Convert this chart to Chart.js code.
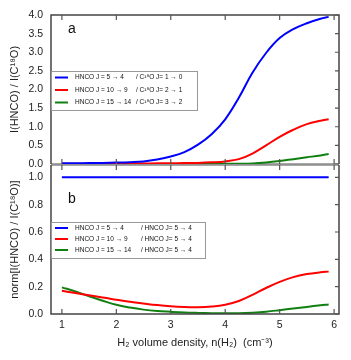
<!DOCTYPE html>
<html>
<head>
<meta charset="utf-8">
<script src="https://cdn.jsdelivr.net/npm/chart.js@4"></script>
<style>
  html, body { margin: 0; padding: 0; background: #fff; }
  #wrap { position: relative; width: 351px; height: 360px; }
  #wrap canvas { position: absolute; left: 0; top: 0; }
</style>
</head>
<body>
<div id="wrap">
  <canvas id="topChart" width="351" height="360"></canvas>
  <canvas id="bottomChart" width="351" height="360"></canvas>
</div>
<script>
// H2 volume density, log n(H2)
const density = [1, 1.25, 1.5, 1.75, 2, 2.25, 2.5, 2.75, 3, 3.25, 3.5, 3.75, 4, 4.25, 4.5, 4.75, 5, 5.25, 5.5, 5.75, 5.9];

// panel a: I(HNCO) / I(C18O)
const ratio54 = [0.02, 0.022, 0.025, 0.03, 0.038, 0.05, 0.07, 0.12, 0.2, 0.32, 0.52, 0.8, 1.2, 1.78, 2.45, 2.98, 3.38, 3.62, 3.78, 3.9, 3.95];
const ratio109 = [0.01, 0.01, 0.01, 0.01, 0.01, 0.012, 0.014, 0.017, 0.02, 0.025, 0.03, 0.045, 0.07, 0.13, 0.28, 0.5, 0.73, 0.92, 1.07, 1.16, 1.2];
const ratio1514 = [0, 0, 0, 0, 0, 0, 0, 0, 0.001, 0.002, 0.003, 0.004, 0.006, 0.008, 0.015, 0.04, 0.08, 0.13, 0.18, 0.23, 0.27];

// panel b: normalised to HNCO 5-4
const norm54 = [1, 1, 1, 1, 1, 1, 1, 1, 1, 1, 1, 1, 1, 1, 1, 1, 1, 1, 1, 1, 1];
const norm109 = [0.17, 0.153, 0.137, 0.12, 0.105, 0.09, 0.077, 0.065, 0.056, 0.051, 0.05, 0.055, 0.068, 0.095, 0.14, 0.19, 0.235, 0.27, 0.292, 0.305, 0.31];
const norm1514 = [0.195, 0.165, 0.13, 0.097, 0.067, 0.047, 0.032, 0.022, 0.016, 0.011, 0.008, 0.006, 0.005, 0.006, 0.01, 0.017, 0.028, 0.04, 0.052, 0.064, 0.07];

const xTicks = [1, 2, 3, 4, 5, 6];
const topYTicks = [0, 0.5, 1, 1.5, 2, 2.5, 3, 3.5, 4];
const bottomYTicks = [0, 0.2, 0.4, 0.6, 0.8, 1.0];

const topLabelsA = ['HNCO J = 5 \u2192 4', 'HNCO J = 10 \u2192 9', 'HNCO J = 15 \u2192 14'];
const topLabelsB = ['/ C\u00b9\u2078O J= 1 \u2192 0', '/ C\u00b9\u2078O J= 2 \u2192 1', '/ C\u00b9\u2078O J= 3 \u2192 2'];
const bottomLabelsA = ['HNCO J = 5 \u2192 4', 'HNCO J = 10 \u2192 9', 'HNCO J = 15 \u2192 14'];
const bottomLabelsB = ['/ HNCO J= 5 \u2192 4', '/ HNCO J= 5 \u2192 4', '/ HNCO J= 5 \u2192 4'];

const colors = ['#0000ff', '#ff0000', '#108010'];
const FONT = "'Liberation Sans', Arial, sans-serif";
Chart.defaults.font.family = FONT;

const pts = ys => density.map((x, i) => ({ x, y: ys[i] }));
const line = (label, ys, color) => ({
  label, data: pts(ys), borderColor: color, borderWidth: 2,
  pointRadius: 0, fill: false, tension: 0.4
});

const keepTicks = list => scale => {
  scale.ticks = list.map(v => ({ value: v }));
};

// separator line between panels, drawn under the curves
const separator = {
  id: 'separator',
  beforeDatasetsDraw(chart, args, o) {
    const { ctx, chartArea: a } = chart;
    const y = o.side === 'bottom' ? a.bottom : a.top;
    ctx.save();
    ctx.strokeStyle = '#8a8a8a';
    ctx.lineWidth = 1.6;
    ctx.beginPath();
    ctx.moveTo(a.left, y); ctx.lineTo(a.right, y);
    ctx.stroke();
    ctx.restore();
  }
};

// frame, inward ticks, legend box and panel letter
const decor = {
  id: 'decor',
  afterDraw(chart, args, o) {
    const { ctx, chartArea: a, scales } = chart;
    ctx.save();
    ctx.strokeStyle = '#444';
    ctx.lineWidth = 1.5;
    ctx.beginPath();
    if (o.open === 'bottom') {
      ctx.moveTo(a.left, a.bottom); ctx.lineTo(a.left, a.top);
      ctx.lineTo(a.right, a.top); ctx.lineTo(a.right, a.bottom);
    } else {
      ctx.moveTo(a.left, a.top); ctx.lineTo(a.left, a.bottom);
      ctx.lineTo(a.right, a.bottom); ctx.lineTo(a.right, a.top);
    }
    ctx.stroke();

    ctx.strokeStyle = '#555';
    ctx.lineWidth = 1.2;
    ctx.beginPath();
    xTicks.forEach(v => {
      const px = scales.x.getPixelForValue(v);
      ctx.moveTo(px, a.top); ctx.lineTo(px, a.top + 5);
      ctx.moveTo(px, a.bottom); ctx.lineTo(px, a.bottom - 5);
    });
    o.yTicks.forEach(v => {
      const py = scales.y.getPixelForValue(v);
      ctx.moveTo(a.right, py); ctx.lineTo(a.right - 4, py);
    });
    ctx.stroke();

    // legend
    const b = o.box;
    ctx.fillStyle = '#fff';
    ctx.fillRect(b.x0, b.y0, b.x1 - b.x0, b.y1 - b.y0);
    ctx.strokeStyle = '#999';
    ctx.lineWidth = 1;
    ctx.strokeRect(b.x0 + 0.5, b.y0 + 0.5, b.x1 - b.x0, b.y1 - b.y0);
    ctx.font = '6.5px ' + FONT;
    ctx.textBaseline = 'middle';
    ctx.fillStyle = '#111';
    chart.data.datasets.forEach((ds, i) => {
      const y = o.rows[i];
      ctx.strokeStyle = ds.borderColor;
      ctx.lineWidth = 2;
      ctx.beginPath();
      ctx.moveTo(b.x0 + 4, y); ctx.lineTo(b.x0 + 17, y);
      ctx.stroke();
      ctx.fillText(o.labelsA[i], b.x0 + 24, y);
      ctx.fillText(o.labelsB[i], o.col2, y);
    });

    ctx.font = '14px ' + FONT;
    ctx.textBaseline = 'alphabetic';
    ctx.fillStyle = '#111';
    ctx.fillText(o.letter, a.left + 17, a.top + o.letterDy);
    ctx.restore();
  }
};

const yAxis = (max, ticks, title) => ({
  min: 0, max,
  afterBuildTicks: keepTicks(ticks),
  afterFit: s => { s.width = 51; },
  grid: { display: false, drawTicks: false },
  border: { display: false },
  ticks: {
    padding: 8, color: '#222', font: { size: 10.5 },
    callback: v => v.toFixed(1)
  },
  title: {
    display: true, text: title, color: '#222',
    font: { size: 11 }, padding: { top: 8, bottom: 0 }
  }
});

new Chart(document.getElementById('topChart'), {
  type: 'line',
  data: {
    datasets: [
      line(topLabelsA[0], ratio54, colors[0]),
      line(topLabelsA[1], ratio109, colors[1]),
      line(topLabelsA[2], ratio1514, colors[2])
    ]
  },
  options: {
    responsive: false, animation: false,
    layout: { padding: { left: 0, top: 15, right: 12, bottom: 196 } },
    plugins: {
      legend: { display: false }, tooltip: { enabled: false },
      separator: { side: 'bottom' },
      decor: {
        open: 'bottom', yTicks: topYTicks, letter: 'a', letterDy: 18,
        box: { x0: 51, y0: 71, x1: 197, y1: 110 },
        rows: [77.5, 90, 102.5], col2: 136,
        labelsA: topLabelsA, labelsB: topLabelsB
      }
    },
    scales: {
      x: { type: 'linear', min: 0.8, max: 6.09, display: false },
      y: yAxis(4, topYTicks, 'I(HNCO) / I(C\u00b9\u2078O)')
    }
  },
  plugins: [separator, decor]
});

new Chart(document.getElementById('bottomChart'), {
  type: 'line',
  data: {
    datasets: [
      line(bottomLabelsA[0], norm54, colors[0]),
      line(bottomLabelsA[1], norm109, colors[1]),
      line(bottomLabelsA[2], norm1514, colors[2])
    ]
  },
  options: {
    responsive: false, animation: false,
    layout: { padding: { left: 0, top: 165, right: 12, bottom: 0 } },
    plugins: {
      legend: { display: false }, tooltip: { enabled: false },
      separator: { side: 'top' },
      decor: {
        open: 'top', yTicks: bottomYTicks, letter: 'b', letterDy: 38,
        box: { x0: 51, y0: 222, x1: 205, y1: 258 },
        rows: [228, 239, 250], col2: 141,
        labelsA: bottomLabelsA, labelsB: bottomLabelsB
      }
    },
    scales: {
      x: {
        type: 'linear', min: 0.8, max: 6.09,
        afterBuildTicks: keepTicks(xTicks),
        afterFit: s => { s.height = 46; },
        grid: { display: false, drawTicks: false },
        border: { display: false },
        ticks: { padding: 5, color: '#222', font: { size: 10.5 }, autoSkip: false, maxRotation: 0 },
        title: {
          display: true, text: 'H\u2082 volume density, n(H\u2082)  (cm\u207b\u00b3)', color: '#222',
          font: { size: 11 }, padding: { top: 0, bottom: 10 }
        }
      },
      y: yAxis(1.09, bottomYTicks, 'norm[I(HNCO) / I(C\u00b9\u2078O)]')
    }
  },
  plugins: [separator, decor]
});
</script>
</body>
</html>
